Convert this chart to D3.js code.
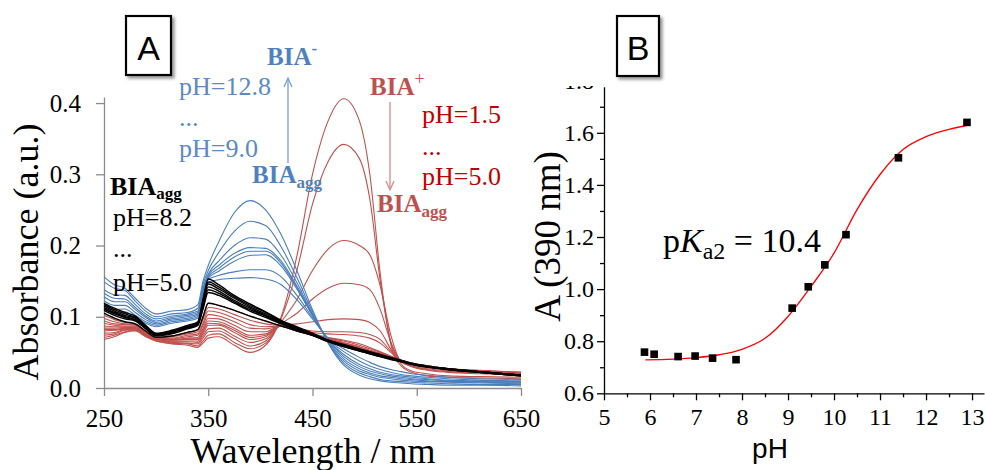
<!DOCTYPE html>
<html><head><meta charset="utf-8">
<script src="https://cdn.jsdelivr.net/npm/d3@7"></script>
<style>body{margin:0;background:#fff}svg{display:block}</style>
</head><body>
<svg id="c" width="985" height="470"></svg>
<script>
// ---------- Panel A data ----------
const wavelengths = [250,260,270,280,290,300,315,330,340,345,350,360,375,390,405,420,435,450,465,480,495,505,515,525,535,545,560,580,610,650];
const xTicksA = [250,350,450,550,650];
const yTicksA = [0,0.1,0.2,0.3,0.4];

// pH 12.8 ... 9.0 (BIA-)
const blueSpectra = [
 [0.156,0.145,0.140,0.126,0.112,0.104,0.108,0.110,0.117,0.150,0.172,0.205,0.246,0.263,0.250,0.215,0.165,0.110,0.063,0.032,0.018,0.013,0.010,0.008,0.007,0.006,0.005,0.004,0.004,0.003],
 [0.149,0.140,0.137,0.122,0.108,0.100,0.104,0.106,0.112,0.145,0.165,0.190,0.220,0.234,0.228,0.198,0.155,0.107,0.064,0.035,0.021,0.016,0.012,0.010,0.009,0.008,0.007,0.006,0.005,0.005],
 [0.138,0.131,0.130,0.117,0.104,0.097,0.101,0.104,0.108,0.140,0.160,0.178,0.200,0.211,0.209,0.186,0.148,0.104,0.065,0.038,0.024,0.019,0.015,0.013,0.011,0.010,0.009,0.008,0.007,0.006],
 [0.133,0.126,0.125,0.113,0.101,0.094,0.099,0.102,0.106,0.138,0.158,0.172,0.189,0.197,0.196,0.178,0.143,0.103,0.066,0.041,0.027,0.021,0.017,0.015,0.013,0.012,0.010,0.009,0.008,0.007],
 [0.128,0.121,0.121,0.110,0.099,0.092,0.097,0.100,0.104,0.136,0.156,0.168,0.184,0.192,0.192,0.175,0.141,0.102,0.067,0.044,0.030,0.024,0.020,0.017,0.015,0.013,0.012,0.010,0.009,0.008],
 [0.122,0.116,0.116,0.106,0.096,0.090,0.095,0.098,0.102,0.134,0.154,0.164,0.178,0.186,0.187,0.171,0.139,0.102,0.068,0.047,0.033,0.027,0.022,0.019,0.017,0.015,0.013,0.011,0.010,0.009],
 [0.116,0.110,0.111,0.102,0.093,0.088,0.093,0.096,0.100,0.132,0.152,0.158,0.163,0.166,0.166,0.156,0.130,0.099,0.069,0.051,0.038,0.031,0.026,0.022,0.019,0.017,0.015,0.013,0.011,0.010],
 [0.112,0.106,0.107,0.099,0.091,0.086,0.091,0.094,0.098,0.128,0.148,0.152,0.154,0.155,0.153,0.145,0.124,0.097,0.070,0.055,0.043,0.036,0.030,0.026,0.023,0.020,0.018,0.015,0.013,0.012]
];

// pH 8.2 ... 5.0 (BIA agg)
const blackSpectra = [
 [0.119,0.112,0.106,0.101,0.088,0.077,0.081,0.088,0.093,0.125,0.153,0.145,0.130,0.118,0.107,0.095,0.086,0.077,0.067,0.060,0.054,0.050,0.046,0.042,0.038,0.034,0.030,0.027,0.023,0.018],
 [0.117,0.110,0.104,0.099,0.087,0.076,0.080,0.087,0.092,0.122,0.149,0.142,0.128,0.116,0.106,0.094,0.085,0.076,0.067,0.060,0.054,0.050,0.046,0.042,0.038,0.034,0.030,0.027,0.023,0.018],
 [0.115,0.108,0.102,0.098,0.086,0.076,0.079,0.086,0.091,0.120,0.146,0.139,0.126,0.114,0.104,0.093,0.084,0.076,0.066,0.059,0.053,0.049,0.045,0.041,0.038,0.034,0.030,0.026,0.023,0.018],
 [0.113,0.106,0.100,0.096,0.085,0.075,0.078,0.085,0.090,0.117,0.142,0.136,0.123,0.112,0.102,0.092,0.083,0.075,0.066,0.059,0.053,0.049,0.045,0.041,0.037,0.034,0.030,0.026,0.022,0.017],
 [0.111,0.104,0.099,0.095,0.084,0.074,0.077,0.084,0.089,0.114,0.138,0.133,0.121,0.110,0.101,0.091,0.082,0.074,0.065,0.058,0.052,0.048,0.044,0.041,0.037,0.034,0.030,0.026,0.022,0.017],
 [0.109,0.102,0.097,0.094,0.083,0.073,0.076,0.083,0.088,0.111,0.134,0.130,0.119,0.108,0.099,0.090,0.081,0.074,0.065,0.058,0.052,0.048,0.044,0.040,0.037,0.033,0.029,0.026,0.022,0.017],
 [0.105,0.098,0.093,0.090,0.080,0.071,0.073,0.078,0.082,0.100,0.119,0.116,0.109,0.101,0.094,0.087,0.080,0.074,0.067,0.061,0.055,0.051,0.047,0.043,0.039,0.035,0.031,0.027,0.023,0.018]
];

// pH 1.5 ... 5.0 (BIA+)
const redSpectra = [
 [0.068,0.072,0.078,0.080,0.072,0.066,0.062,0.060,0.057,0.063,0.070,0.072,0.060,0.050,0.060,0.100,0.185,0.300,0.375,0.406,0.375,0.300,0.160,0.062,0.031,0.022,0.017,0.015,0.014,0.013],
 [0.071,0.074,0.079,0.081,0.073,0.066,0.063,0.062,0.059,0.066,0.074,0.076,0.064,0.055,0.063,0.098,0.165,0.258,0.318,0.342,0.322,0.265,0.150,0.065,0.034,0.024,0.020,0.017,0.016,0.015],
 [0.074,0.076,0.081,0.082,0.073,0.067,0.064,0.063,0.062,0.070,0.079,0.080,0.069,0.059,0.066,0.093,0.124,0.165,0.195,0.207,0.200,0.187,0.143,0.075,0.037,0.030,0.025,0.022,0.020,0.018],
 [0.077,0.078,0.082,0.083,0.074,0.067,0.065,0.065,0.064,0.073,0.083,0.084,0.073,0.064,0.069,0.090,0.105,0.125,0.140,0.147,0.145,0.138,0.110,0.065,0.037,0.031,0.026,0.023,0.021,0.019],
 [0.080,0.081,0.083,0.084,0.075,0.068,0.066,0.066,0.066,0.076,0.088,0.088,0.078,0.068,0.072,0.088,0.090,0.093,0.096,0.097,0.096,0.092,0.080,0.055,0.037,0.031,0.027,0.024,0.022,0.020],
 [0.082,0.082,0.084,0.084,0.075,0.068,0.067,0.068,0.068,0.079,0.091,0.090,0.081,0.071,0.074,0.087,0.083,0.080,0.079,0.079,0.078,0.075,0.068,0.052,0.038,0.033,0.029,0.026,0.023,0.021],
 [0.084,0.084,0.085,0.085,0.076,0.068,0.067,0.069,0.069,0.081,0.094,0.093,0.084,0.074,0.076,0.087,0.082,0.078,0.076,0.075,0.073,0.070,0.063,0.050,0.038,0.034,0.030,0.026,0.024,0.022],
 [0.087,0.086,0.086,0.086,0.077,0.069,0.068,0.070,0.071,0.084,0.098,0.097,0.088,0.079,0.079,0.088,0.081,0.076,0.071,0.067,0.062,0.057,0.051,0.045,0.039,0.035,0.031,0.027,0.025,0.022],
 [0.091,0.088,0.087,0.087,0.077,0.069,0.069,0.072,0.074,0.088,0.103,0.101,0.093,0.084,0.083,0.087,0.080,0.075,0.070,0.066,0.060,0.055,0.050,0.044,0.039,0.035,0.031,0.027,0.024,0.022],
 [0.094,0.090,0.089,0.088,0.078,0.070,0.070,0.074,0.076,0.091,0.108,0.106,0.098,0.089,0.086,0.087,0.080,0.075,0.069,0.064,0.058,0.053,0.049,0.044,0.039,0.035,0.031,0.027,0.024,0.021],
 [0.098,0.093,0.090,0.089,0.079,0.070,0.072,0.076,0.079,0.096,0.113,0.111,0.103,0.095,0.090,0.087,0.080,0.074,0.068,0.063,0.057,0.052,0.048,0.043,0.039,0.035,0.031,0.027,0.024,0.021],
 [0.102,0.096,0.092,0.090,0.080,0.071,0.073,0.078,0.082,0.100,0.119,0.116,0.109,0.101,0.094,0.087,0.080,0.074,0.068,0.062,0.056,0.051,0.047,0.043,0.039,0.035,0.031,0.027,0.024,0.021]
];

// ---------- Panel B data ----------
const pHValues = [5.88,6.09,6.61,6.98,7.36,7.87,9.09,9.44,9.80,10.26,11.40,12.89];
const absValues = [0.758,0.750,0.741,0.743,0.735,0.729,0.927,1.009,1.093,1.209,1.504,1.640];
const fitPH = [5.9,6.5,7.0,7.5,8.0,8.5,9.0,9.5,10.0,10.5,11.0,11.5,12.0,12.5,12.9];
const fitA  = [0.728,0.731,0.737,0.748,0.769,0.811,0.895,1.010,1.138,1.305,1.440,1.536,1.585,1.613,1.629];
const xTicksB = [5,6,7,8,9,10,11,12,13];
const xMinorB = [5.5,6.5,7.5,8.5,9.5,10.5,11.5,12.5];
const yTicksB = [0.6,0.8,1.0,1.2,1.4,1.6,1.8];
const yMinorB = [0.7,0.9,1.1,1.3,1.5,1.7];

const SERIF = "'Liberation Serif','Times New Roman',serif";
const SANS = "'Liberation Sans',Arial,sans-serif";
const svg = d3.select("#c");
svg.append("rect").attr("width",985).attr("height",470).attr("fill","#fff");

const defs = svg.append("defs");
const f = defs.append("filter").attr("id","sh").attr("x","-20%").attr("y","-20%").attr("width","150%").attr("height","150%");
f.append("feDropShadow").attr("dx",2.5).attr("dy",2.5).attr("stdDeviation",1.5).attr("flood-color","#777").attr("flood-opacity",0.8);
defs.append("clipPath").attr("id","clipB").append("rect").attr("x",520).attr("y",86).attr("width",465).attr("height",384);

// ---------- Panel A ----------
const xA = d3.scaleLinear().domain([250,650]).range([104,521]);
const yA = d3.scaleLinear().domain([0,0.4085]).range([388,97]);

const gxA = svg.append("g").attr("transform","translate(0,388)")
  .call(d3.axisBottom(xA).tickValues(xTicksA).tickFormat(d3.format("d")).tickSize(8).tickSizeOuter(0).tickPadding(13));
const gyA = svg.append("g").attr("transform","translate(104,0)")
  .call(d3.axisLeft(yA).tickValues(yTicksA).tickFormat(d3.format(".1f")).tickSize(8).tickSizeOuter(0).tickPadding(15));
[gxA,gyA].forEach(g=>{
  g.select(".domain").attr("stroke","#8c8c8c").attr("stroke-width",1.3);
  g.selectAll(".tick line").attr("stroke","#8c8c8c").attr("stroke-width",1.3);
  g.selectAll(".tick text").attr("font-family",SERIF).attr("font-size",25).attr("fill","#000");
});

const lineA = d3.line().x((d,i)=>xA(wavelengths[i])).y(d=>yA(d)).curve(d3.curveMonotoneX);
svg.append("g").selectAll("path").data(redSpectra).join("path")
  .attr("d",lineA).attr("fill","none").attr("stroke","#c0504d").attr("stroke-width",1.1);
svg.append("g").selectAll("path").data(blueSpectra).join("path")
  .attr("d",lineA).attr("fill","none").attr("stroke","#4a7ebb").attr("stroke-width",1.1);
svg.append("g").selectAll("path").data(blackSpectra).join("path")
  .attr("d",lineA).attr("fill","none").attr("stroke","#000").attr("stroke-width",1.4);

svg.append("text").attr("x",313).attr("y",463).attr("text-anchor","middle")
  .attr("font-family",SERIF).attr("font-size",36).text("Wavelength / nm");
svg.append("text").attr("transform","translate(38,252) rotate(-90)").attr("text-anchor","middle")
  .attr("font-family",SERIF).attr("font-size",36).text("Absorbance (a.u.)");

// panel label boxes
function panelLabel(x,y,w,h,t){
  svg.append("rect").attr("x",x).attr("y",y).attr("width",w).attr("height",h)
    .attr("fill","#fff").attr("stroke","#000").attr("stroke-width",2.2).attr("filter","url(#sh)");
  svg.append("text").attr("x",x+w/2).attr("y",y+44).attr("text-anchor","middle")
    .attr("font-family",SANS).attr("font-size",34).text(t);
}
panelLabel(126,16,45,59,"A");
panelLabel(617,16,42,60,"B");

// annotations
function lab(x,y,parts,color,size){
  const t = svg.append("text").attr("x",x).attr("y",y).attr("font-family",SERIF).attr("font-size",size).attr("fill",color);
  parts.forEach(p=>{
    const s = t.append("tspan").text(p.t);
    if(p.b) s.attr("font-weight","bold");
    if(p.fs) s.attr("font-size",p.fs);
    if(p.dy) s.attr("dy",p.dy);
  });
  return t;
}
const BLUE="#4f81bd", BLUE2="#5b8ac6", RED="#c0504d", RED2="#c00000";
lab(267,65,[{t:"BIA",b:1},{t:"-",b:1,fs:17,dy:-11}],BLUE,25);
lab(179,95,[{t:"pH=12.8"}],BLUE2,26);
lab(179,126,[{t:"..."}],BLUE2,26);
lab(179,157,[{t:"pH=9.0"}],BLUE2,26);
lab(252,183,[{t:"BIA",b:1},{t:"agg",b:1,fs:17,dy:5}],BLUE,25);
lab(110,195,[{t:"BIA",b:1},{t:"agg",b:1,fs:17,dy:4}],"#000",26);
lab(113,226,[{t:"pH=8.2"}],"#000",26);
lab(113,257,[{t:"..."}],"#000",26);
lab(113,291,[{t:"pH=5.0"}],"#000",26);
lab(370,95,[{t:"BIA",b:1},{t:"+",fs:18,dy:-10}],RED,25);
lab(422,123,[{t:"pH=1.5"}],RED2,26);
lab(422,155,[{t:"..."}],RED2,26);
lab(422,185,[{t:"pH=5.0"}],RED2,26);
lab(377,212,[{t:"BIA",b:1},{t:"agg",b:1,fs:17,dy:5}],RED,25);

// arrows
svg.append("line").attr("x1",288).attr("y1",163).attr("x2",288).attr("y2",79).attr("stroke","#7aa0d4").attr("stroke-width",1.3);
svg.append("path").attr("d","M284,87L288,78L292,87").attr("fill","none").attr("stroke","#7aa0d4").attr("stroke-width",1.3);
svg.append("line").attr("x1",390).attr("y1",102).attr("x2",390).attr("y2",189).attr("stroke","#d58b89").attr("stroke-width",1.3);
svg.append("path").attr("d","M386,181L390,190L394,181").attr("fill","none").attr("stroke","#d58b89").attr("stroke-width",1.3);

// ---------- Panel B ----------
const xB = d3.scaleLinear().domain([5,13.26]).range([604,984]);
const yB = d3.scaleLinear().domain([0.6,1.777]).range([393.3,86.7]);
const gB = svg.append("g").attr("clip-path","url(#clipB)");

gB.append("g").attr("transform","translate(0,393.3)")
  .call(d3.axisBottom(xB).tickValues(xMinorB).tickFormat("").tickSize(4).tickSizeOuter(0))
  .call(g=>g.select(".domain").remove());
gB.append("g").attr("transform","translate(604,0)")
  .call(d3.axisLeft(yB).tickValues(yMinorB).tickFormat("").tickSize(4).tickSizeOuter(0))
  .call(g=>g.select(".domain").remove());
const gxB = gB.append("g").attr("transform","translate(0,393.3)")
  .call(d3.axisBottom(xB).tickValues(xTicksB).tickFormat(d3.format("d")).tickSize(7).tickSizeOuter(0).tickPadding(8));
const gyB = gB.append("g").attr("transform","translate(604,0)")
  .call(d3.axisLeft(yB).tickValues(yTicksB).tickFormat(d3.format(".1f")).tickSize(7).tickSizeOuter(0).tickPadding(3));
gB.selectAll("line,path").attr("stroke","#000").attr("stroke-width",1.3);
[gxB,gyB].forEach(g=>g.selectAll(".tick text").attr("font-family",SERIF).attr("font-size",24).attr("fill","#000"));

const lineB = d3.line().x((d,i)=>xB(fitPH[i])).y(d=>yB(d)).curve(d3.curveMonotoneX);
svg.append("path").datum(fitA).attr("d",lineB).attr("fill","none").attr("stroke","#ff0000").attr("stroke-width",1.3);
svg.append("g").selectAll("rect").data(absValues).join("rect")
  .attr("x",(d,i)=>xB(pHValues[i])-3.8).attr("y",d=>yB(d)-3.8)
  .attr("width",7.6).attr("height",7.6).attr("fill","#000");

const pk = svg.append("text").attr("x",663).attr("y",252).attr("font-family",SERIF).attr("font-size",34);
pk.append("tspan").text("p");
pk.append("tspan").attr("font-style","italic").text("K");
pk.append("tspan").attr("font-size",24).attr("dy",7).text("a2");
pk.append("tspan").attr("dy",-7).text(" = 10.4");

svg.append("text").attr("x",770).attr("y",458).attr("text-anchor","middle")
  .attr("font-family",SANS).attr("font-size",28).text("pH");
svg.append("text").attr("transform","translate(560,236.5) rotate(-90)").attr("text-anchor","middle")
  .attr("font-family",SERIF).attr("font-size",37).text("A (390 nm)");
</script>
</body></html>
